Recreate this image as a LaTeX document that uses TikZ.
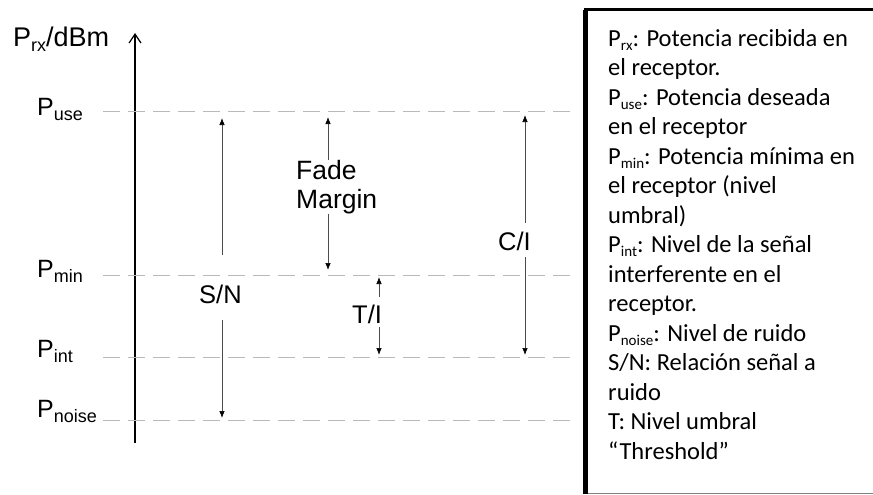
\documentclass[tikz,border=0pt]{standalone}
\usepackage{fontspec}
\setmainfont{Liberation Sans}
\newfontfamily\boxfont{Carlito}
\usetikzlibrary{arrows.meta}

\newcommand{\lsub}[1]{\raisebox{-5pt}{\fontsize{18}{18}\selectfont #1}}
\newcommand{\bsub}[1]{\raisebox{-4pt}{\fontsize{15}{15}\selectfont #1}}

\tikzset{
	level/.style={gray!55, line width=1.1pt, dash pattern=on 17pt off 8pt},
	dim/.style={gray!60!black, line width=0.7pt, -{Latex[length=7pt,width=5.5pt,black]}},
	lvl label/.style={anchor=base west, inner sep=0pt, font=\fontsize{25}{28}\selectfont},
	dim label/.style={anchor=base west, inner sep=0pt, font=\fontsize{25.5}{29}\selectfont},
}

\begin{document}
\begin{tikzpicture}[x=1pt,y=1pt,yscale=-1,xscale=1]
		\useasboundingbox (0,0) rectangle (873,495);

		% Power axis
		\coordinate (axis bottom) at (135,443);
		\coordinate (axis top) at (135,33);
		\draw[line width=1.5pt, -{Straight Barb[length=9pt,width=12pt,line width=1.2pt]}] (axis bottom) -- (axis top);
		\node[lvl label, font=\fontsize{27}{30}\selectfont] (prx) at (13,47) {P\lsub{rx}/dBm};

		% Dashed levels
		\coordinate (use) at (103,111.7);   \coordinate (use end) at (575,111.7);
		\coordinate (min) at (103,275.7);   \coordinate (min end) at (575,275.7);
		\coordinate (int) at (103,357.7);   \coordinate (int end) at (575,357.7);
		\coordinate (noise) at (103,420.7); \coordinate (noise end) at (575,420.7);
		\draw[level] (use) -- (use end);
		\draw[level] (min) -- (min end);
		\draw[level] (int) -- (int end);
		\draw[level] (noise) -- (noise end);

		% Level names
		\node[lvl label] (puse) at (37,115) {P\lsub{use}};
		\node[lvl label] (pmin) at (37,277) {P\lsub{min}};
		\node[lvl label] (pint) at (37,357) {P\lsub{int}};
		\node[lvl label] (pnoise) at (37,417) {P\lsub{noise}};

		% S/N
		\node[dim label, text height=48pt, text depth=17pt] (sn) at (199,303) {S/N};
		\coordinate (sn top) at (222,118);
		\coordinate (sn bottom) at (222,418);
		\draw[dim] (sn.north -| sn top) -- (sn top);
		\draw[dim] (sn.south -| sn bottom) -- (sn bottom);

		% Fade Margin
		\node[anchor=north west, inner sep=0pt, align=left, font=\fontsize{26.5}{29}\selectfont] (fade) at (296,160) {Fade\\Margin};
		\coordinate (fade top) at (328,117);
		\coordinate (fade bottom) at (328,270);
		\draw[dim] (fade.north -| fade top) -- (fade top);
		\draw[dim] (fade.south -| fade bottom) -- (fade bottom);

		% T/I
		\node[dim label, text height=26pt, text depth=4pt] (ti) at (352,323) {T/I};
		\coordinate (ti top) at (379,277);
		\coordinate (ti bottom) at (379,355);
		\draw[dim] (ti.north -| ti top) -- (ti top);
		\draw[dim] (ti.south -| ti bottom) -- (ti bottom);

		% C/I
		\node[dim label, text height=27pt, text depth=7pt] (ci) at (498,250) {C/I};
		\coordinate (ci top) at (525,115);
		\coordinate (ci bottom) at (525,355);
		\draw[dim] (ci.north -| ci top) -- (ci top);
		\draw[dim] (ci.south -| ci bottom) -- (ci bottom);

		% Legend box
		\draw[line width=4.5pt] (585.5,494) -- (585.5,10);
		\draw[line width=3pt] (583.5,10) -- (880,10);
		\draw[gray, line width=0.8pt] (588,493.5) -- (873,493.5);
		\node[anchor=north west, inner sep=0pt, align=left, font=\boxfont\fontsize{24.5}{29.5}\selectfont] (legend) at (608,29) {%
			P\bsub{rx}: Potencia recibida en\\
			el receptor.\\
			P\bsub{use}: Potencia deseada\\
			en el receptor\\
			P\bsub{min}: Potencia mínima en\\
			el receptor (nivel\\
			umbral)\\
			P\bsub{int}: Nivel de la señal\\
			interferente en el\\
			receptor.\\
			P\bsub{noise}: Nivel de ruido\\
			S/N: Relación señal a\\
			ruido\\
			T: Nivel umbral\\
			“Threshold”};
	\end{tikzpicture}
\end{document}
